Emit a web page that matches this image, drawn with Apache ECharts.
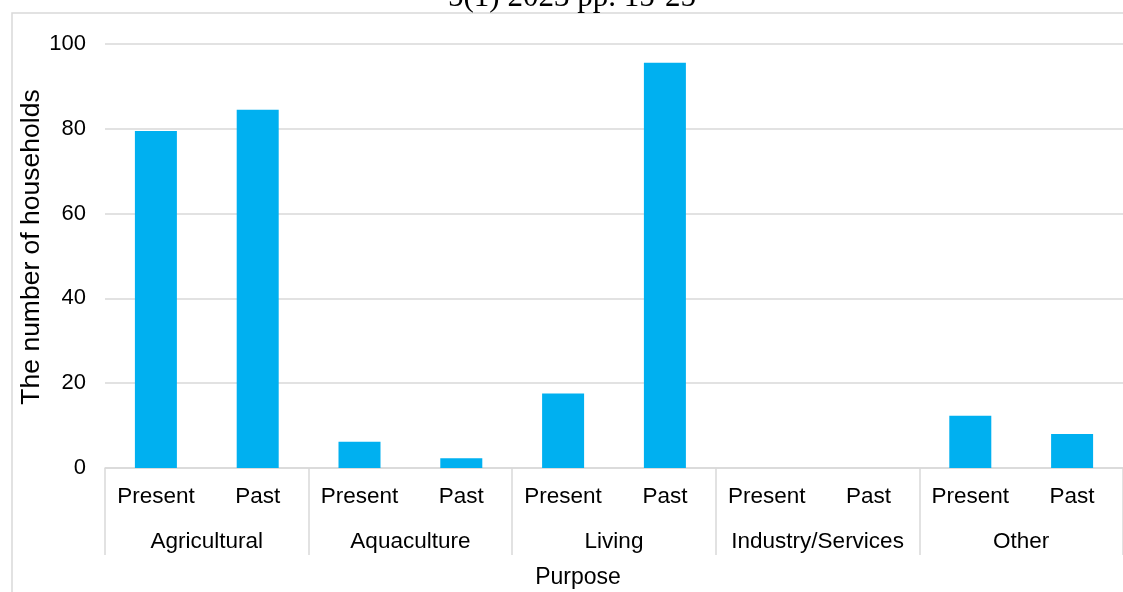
<!DOCTYPE html>
<html>
<head>
<meta charset="utf-8">
<title>Households by purpose</title>
<script src="https://cdn.jsdelivr.net/npm/echarts@6/dist/echarts.min.js"></script>
<style>
  html, body { margin: 0; padding: 0; background: #fff; }
  #chart { width: 1123px; height: 592px; }
</style>
</head>
<body>
<div id="chart"></div>
<script>
// Purpose groups and the two periods compared within each group
const groups = ['Agricultural', 'Aquaculture', 'Living', 'Industry/Services', 'Other'];
const periods = ['Present', 'Past'];

// Number of households per purpose
const presentValues = [79.5, 6.2, 17.6, 0, 12.3];
const pastValues = [84.5, 2.3, 95.6, 0, 8.0];

// Value axis ticks
const yTicks = [0, 20, 40, 60, 80, 100];

// Flatten into one category per bar: Present, Past for each group
const barLabels = [];
const barValues = [];
groups.forEach((g, i) => {
  barLabels.push(periods[0]);
  barValues.push(presentValues[i]);
  barLabels.push(periods[1]);
  barValues.push(pastValues[i]);
});

const gridColor = '#d9d9d9';
const textColor = '#000';
const sans = '"Liberation Sans", Arial, sans-serif';

const chart = echarts.init(document.getElementById('chart'), null, { renderer: 'canvas' });

chart.setOption({
  backgroundColor: '#fff',
  animation: false,
  grid: { left: 105, top: 44, width: 1025, height: 424, containLabel: false },
  xAxis: [
    {
      type: 'category',
      data: barLabels,
      boundaryGap: true,
      axisLine: { show: true, lineStyle: { color: gridColor, width: 1.5 } },
      axisTick: { show: false },
      axisLabel: { interval: 0, color: textColor, fontFamily: sans, fontSize: 22.5, margin: 17 }
    },
    {
      type: 'category',
      data: groups,
      position: 'bottom',
      boundaryGap: true,
      axisLine: { show: false },
      axisTick: { show: true, interval: 0, length: 87, lineStyle: { color: gridColor, width: 1.5 } },
      axisLabel: { interval: 0, color: textColor, fontFamily: sans, fontSize: 22.5, margin: 62 }
    }
  ],
  yAxis: {
    type: 'value',
    min: yTicks[0],
    max: yTicks[yTicks.length - 1],
    interval: yTicks[1] - yTicks[0],
    axisLine: { show: false },
    axisTick: { show: false },
    axisLabel: { color: textColor, fontFamily: sans, fontSize: 22, margin: 19 },
    splitLine: { show: true, lineStyle: { color: gridColor, width: 1.5 } }
  },
  series: [
    {
      type: 'bar',
      xAxisIndex: 0,
      data: barValues,
      barWidth: 42,
      itemStyle: { color: '#00b0f0' }
    }
  ],
  graphic: [
    {
      // outer frame of the chart area
      type: 'rect',
      silent: true,
      shape: { x: 12, y: 13, width: 1200, height: 700 },
      style: { fill: 'none', stroke: gridColor, lineWidth: 1.5 },
      z: -1
    },
    {
      // running header of the page above the chart
      type: 'text',
      x: 572,
      y: -2,
      style: {
        text: '5(1) 2023 pp. 15-25',
        font: '31px "Liberation Serif", "Times New Roman", serif',
        fill: textColor,
        textAlign: 'center',
        textVerticalAlign: 'middle'
      }
    },
    {
      type: 'text',
      x: 32,
      y: 247,
      rotation: Math.PI / 2,
      style: {
        text: 'The number of households',
        font: '26.5px "Liberation Sans", Arial, sans-serif',
        fill: textColor,
        textAlign: 'center',
        textVerticalAlign: 'middle'
      }
    },
    {
      type: 'text',
      x: 578,
      y: 578,
      style: {
        text: 'Purpose',
        font: '23px "Liberation Sans", Arial, sans-serif',
        fill: textColor,
        textAlign: 'center',
        textVerticalAlign: 'middle'
      }
    }
  ]
});
</script>
</body>
</html>
